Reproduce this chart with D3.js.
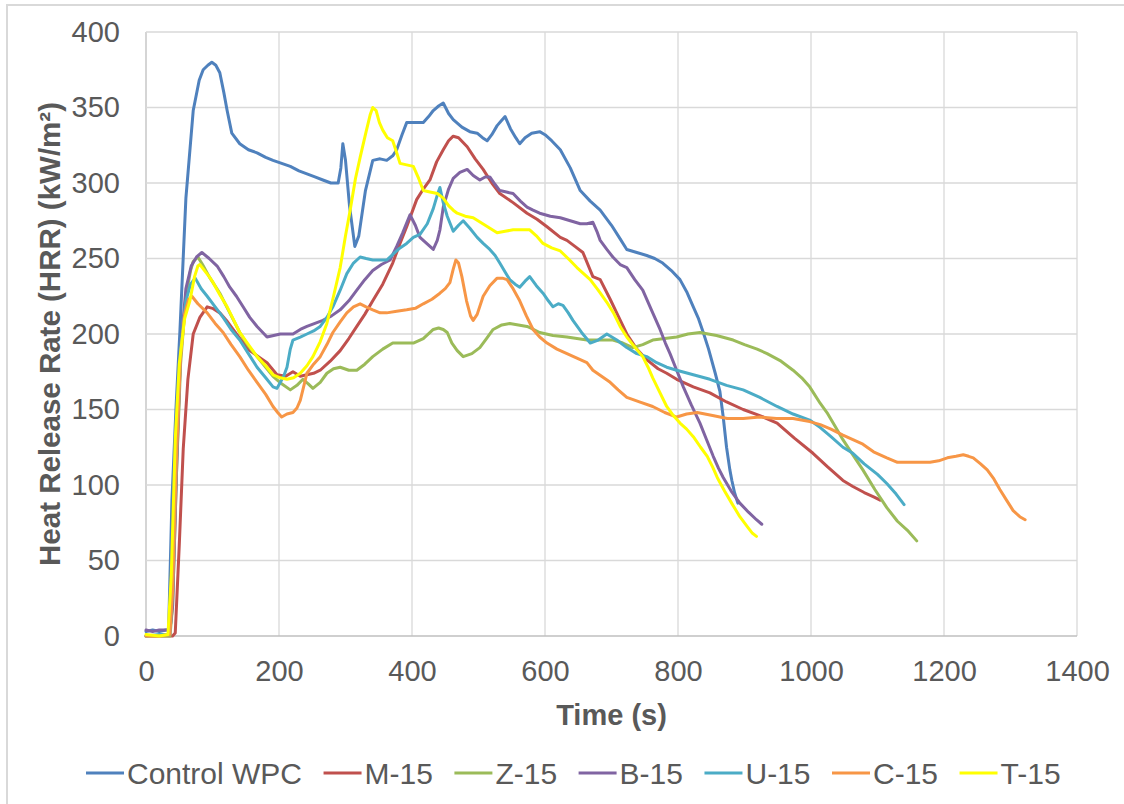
<!DOCTYPE html>
<html>
<head>
<meta charset="utf-8">
<script src="https://cdn.jsdelivr.net/npm/d3@7"></script>
<style>
  body { margin: 0; background: #fff; }
  text { font-family: "Liberation Sans", Arial, sans-serif; }
</style>
</head>
<body>
<div id="my_dataviz"></div>
<script>
// series names, in legend order
const seriesNames = ["Control WPC", "M-15", "Z-15", "B-15", "U-15", "C-15", "T-15"];
const seriesColors = ["#4F81BD", "#C0504D", "#9BBB59", "#8064A2", "#4BACC6", "#F79646", "#FFFF00"];

const xTicks = [0, 200, 400, 600, 800, 1000, 1200, 1400];
const yTicks = [0, 50, 100, 150, 200, 250, 300, 350, 400];

// [time (s), HRR (kW/m2)]
const controlWPC = [[0,3],[10,4],[20,3],[30,4],[34,4],[39,90],[45,150],[51,202],[60,290],[71,348],[80,368],[86,375],[93,378],[99,380],[105,378],[111,373],[117,360],[122,348],[129,333],[141,326],[154,322],[167,320],[180,317],[191,315],[204,313],[217,311],[230,308],[242,306],[254,304],[266,302],[278,300],[289,300],[293,310],[296,326],[300,315],[306,285],[314,258],[320,265],[330,295],[341,315],[352,316],[362,315],[371,318],[377,322],[385,332],[392,340],[405,340],[417,340],[425,344],[432,348],[440,351],[447,353],[455,346],[462,342],[475,337],[487,334],[498,333],[506,330],[513,328],[520,332],[528,338],[534,341],[540,344],[548,336],[556,330],[562,326],[570,330],[580,333],[592,334],[600,332],[610,328],[623,322],[638,310],[653,295],[668,288],[683,282],[700,272],[713,263],[723,256],[738,254],[753,252],[765,250],[777,247],[790,242],[803,236],[813,228],[823,218],[831,210],[838,201],[846,190],[856,174],[863,162],[868,145],[873,125],[878,110],[881,103],[885,95],[890,88]];

const m15 = [[0,0],[20,0],[40,0],[44,2],[50,60],[56,124],[63,170],[71,200],[81,211],[92,218],[100,217],[111,214],[121,209],[131,203],[143,196],[156,189],[169,185],[182,181],[197,173],[210,172],[221,175],[232,172],[242,173],[252,174],[262,176],[277,182],[292,189],[305,197],[317,205],[329,213],[341,222],[356,233],[371,247],[382,260],[392,271],[407,289],[417,296],[427,302],[437,314],[447,322],[455,328],[462,331],[470,330],[483,324],[495,316],[507,309],[520,300],[532,293],[552,287],[573,280],[588,276],[603,271],[623,264],[633,262],[645,258],[657,254],[672,238],[683,236],[698,223],[710,212],[723,200],[738,190],[753,183],[770,177],[783,174],[798,170],[823,165],[848,161],[873,155],[898,150],[923,146],[949,141],[975,131],[1003,121],[1025,112],[1048,103],[1063,99],[1080,95],[1095,92],[1104,90]];

const z15 = [[0,0],[20,0],[36,0],[40,20],[46,110],[52,180],[60,225],[67,242],[71,248],[78,251],[85,246],[95,238],[111,227],[126,214],[141,201],[154,192],[167,185],[180,178],[191,172],[204,167],[217,163],[227,166],[236,170],[244,167],[251,164],[262,168],[272,174],[282,177],[292,178],[305,176],[317,176],[329,180],[341,185],[356,190],[371,194],[386,194],[402,194],[417,197],[432,203],[440,204],[447,203],[453,201],[460,194],[468,189],[477,185],[490,187],[502,191],[512,197],[522,203],[535,206],[547,207],[560,206],[573,205],[583,203],[592,201],[612,199],[633,198],[648,197],[663,196],[683,196],[702,196],[717,194],[732,191],[747,193],[762,196],[780,197],[798,198],[815,200],[833,201],[858,199],[883,196],[900,193],[919,190],[934,187],[955,182],[973,176],[986,171],[998,165],[1014,154],[1024,148],[1036,139],[1048,130],[1063,120],[1078,110],[1096,97],[1114,85],[1130,76],[1145,70],[1159,63]];

const b15 = [[0,4],[10,3],[20,4],[30,4],[36,4],[40,20],[46,110],[52,190],[60,230],[68,245],[76,251],[84,254],[95,250],[107,245],[117,238],[126,231],[136,225],[146,218],[156,211],[167,205],[182,198],[192,199],[202,200],[212,200],[221,200],[232,203],[242,205],[254,207],[266,209],[279,212],[292,216],[305,222],[317,229],[329,236],[341,242],[354,246],[367,249],[377,258],[386,267],[397,279],[405,272],[412,264],[422,260],[432,256],[438,262],[442,269],[447,284],[455,296],[462,303],[472,307],[483,309],[492,305],[502,302],[510,304],[517,304],[525,299],[532,295],[542,294],[552,293],[563,288],[573,284],[582,282],[592,280],[608,278],[623,277],[638,275],[653,273],[663,273],[672,274],[678,268],[683,262],[693,256],[702,251],[713,246],[723,244],[735,236],[747,229],[760,216],[773,203],[781,194],[788,187],[798,176],[808,165],[820,153],[833,141],[843,130],[853,119],[861,111],[868,105],[880,96],[893,88],[906,82],[918,77],[926,74]];

const u15 = [[0,0],[20,1],[36,1],[40,30],[46,120],[52,190],[60,222],[67,233],[74,237],[83,230],[92,225],[104,218],[116,211],[128,203],[141,196],[154,187],[167,178],[180,171],[191,165],[197,164],[202,168],[207,172],[212,178],[217,190],[221,196],[232,198],[242,200],[252,202],[262,205],[272,211],[281,218],[292,229],[302,240],[312,247],[322,251],[331,250],[341,249],[352,249],[362,249],[372,253],[382,257],[392,260],[402,264],[412,266],[423,273],[432,283],[438,292],[442,297],[447,287],[453,278],[462,268],[470,272],[477,275],[487,270],[498,264],[507,260],[517,256],[525,252],[532,247],[540,241],[547,236],[555,233],[562,231],[570,235],[577,238],[587,232],[597,227],[605,222],[612,218],[620,220],[627,219],[635,214],[642,209],[655,201],[668,194],[680,196],[693,200],[708,196],[723,191],[738,187],[753,185],[768,181],[783,178],[798,176],[823,173],[848,170],[873,166],[898,163],[923,158],[949,152],[973,147],[998,143],[1014,138],[1030,132],[1048,125],[1063,121],[1080,114],[1100,107],[1114,101],[1128,94],[1140,87]];

const c15 = [[0,0],[20,0],[36,1],[40,30],[46,120],[52,185],[58,213],[64,223],[69,225],[78,220],[92,214],[104,207],[116,201],[128,193],[141,185],[154,176],[167,168],[180,160],[191,152],[198,148],[204,145],[212,147],[221,148],[227,151],[232,156],[237,165],[242,174],[252,180],[262,185],[272,193],[281,201],[292,208],[302,214],[312,218],[322,220],[331,218],[341,216],[352,214],[362,214],[377,215],[392,216],[405,217],[417,220],[430,223],[442,227],[450,230],[457,234],[462,243],[466,249],[470,247],[475,238],[482,222],[488,212],[492,209],[498,213],[507,225],[517,232],[528,237],[536,237],[543,236],[552,230],[562,222],[572,212],[582,203],[592,198],[603,194],[618,190],[633,187],[648,184],[663,181],[672,176],[685,172],[698,168],[710,163],[723,158],[742,155],[762,152],[780,148],[798,145],[813,147],[829,148],[852,146],[874,144],[898,144],[923,145],[948,144],[973,144],[998,142],[1014,140],[1030,137],[1048,133],[1063,130],[1078,127],[1094,122],[1114,118],[1130,115],[1144,115],[1162,115],[1179,115],[1192,116],[1205,118],[1218,119],[1229,120],[1237,119],[1244,118],[1255,114],[1265,110],[1275,104],[1284,97],[1294,90],[1304,83],[1314,79],[1322,77]];

const t15 = [[0,1],[20,0],[33,1],[38,40],[44,130],[50,180],[58,210],[66,222],[73,238],[78,245],[81,246],[88,242],[95,238],[101,234],[111,226],[122,218],[131,210],[141,201],[154,193],[167,185],[180,179],[191,173],[202,171],[212,170],[222,171],[232,174],[242,179],[251,185],[262,195],[272,207],[282,225],[292,244],[300,265],[307,282],[315,303],[322,317],[331,334],[337,345],[341,350],[346,348],[351,340],[356,335],[363,330],[371,328],[377,320],[382,313],[392,312],[402,311],[410,303],[417,295],[427,294],[438,293],[447,290],[455,285],[462,282],[468,280],[480,278],[492,277],[510,272],[528,267],[540,268],[552,269],[565,269],[577,269],[587,265],[597,260],[610,257],[623,255],[637,249],[648,244],[658,240],[668,236],[680,229],[693,221],[703,214],[713,205],[723,198],[732,193],[747,185],[755,178],[762,171],[773,161],[783,152],[793,146],[803,141],[813,137],[823,132],[834,125],[844,119],[852,112],[859,105],[870,96],[882,87],[893,79],[905,72],[912,68],[918,66]];

const allSeries = [controlWPC, m15, z15, b15, u15, c15, t15];

const W = 1124, H = 804;
const plot = {left: 146, right: 1077, top: 32, bottom: 636};

const svg = d3.select("#my_dataviz")
  .append("svg")
    .attr("width", W)
    .attr("height", H);

// outer chart border
svg.append("rect")
  .attr("x", 7).attr("y", 5)
  .attr("width", 1130).attr("height", 820)
  .attr("fill", "#fff")
  .attr("stroke", "#D9D9D9")
  .attr("stroke-width", 2);

const xScale = d3.scaleLinear().domain([0, 1400]).range([plot.left, plot.right]);
const yScale = d3.scaleLinear().domain([0, 400]).range([plot.bottom, plot.top]);

// gridlines
svg.append("g")
  .selectAll("line.v")
  .data(xTicks)
  .enter().append("line")
    .attr("x1", d => xScale(d)).attr("x2", d => xScale(d))
    .attr("y1", plot.top).attr("y2", plot.bottom)
    .attr("stroke", d => d === 0 ? "#BFBFBF" : "#D9D9D9")
    .attr("stroke-width", 1.3);

svg.append("g")
  .selectAll("line.h")
  .data(yTicks)
  .enter().append("line")
    .attr("x1", plot.left).attr("x2", plot.right)
    .attr("y1", d => yScale(d)).attr("y2", d => yScale(d))
    .attr("stroke", d => d === 0 ? "#BFBFBF" : "#D9D9D9")
    .attr("stroke-width", 1.3);

// axes (labels only, no ticks)
const xAxis = d3.axisBottom(xScale).tickValues(xTicks).tickFormat(d3.format("d")).tickSize(0).tickPadding(24);
const yAxis = d3.axisLeft(yScale).tickValues(yTicks).tickFormat(d3.format("d")).tickSize(0).tickPadding(26);

svg.append("g")
  .attr("transform", `translate(0, ${plot.bottom})`)
  .call(xAxis)
  .call(g => g.select(".domain").remove())
  .selectAll("text")
    .attr("font-size", 29)
    .attr("font-family", "Liberation Sans, Arial, sans-serif")
    .attr("fill", "#595959");

svg.append("g")
  .attr("transform", `translate(${plot.left}, 0)`)
  .call(yAxis)
  .call(g => g.select(".domain").remove())
  .selectAll("text")
    .attr("font-size", 29)
    .attr("font-family", "Liberation Sans, Arial, sans-serif")
    .attr("fill", "#595959");

// axis titles
svg.append("text")
  .attr("x", (plot.left + plot.right) / 2)
  .attr("y", 725)
  .attr("text-anchor", "middle")
  .attr("font-size", 29)
  .attr("font-weight", "bold")
  .attr("fill", "#595959")
  .text("Time (s)");

svg.append("text")
  .attr("transform", `translate(60, ${(plot.top + plot.bottom) / 2}) rotate(-90)`)
  .attr("text-anchor", "middle")
  .attr("font-size", 29.5)
  .attr("font-weight", "bold")
  .attr("fill", "#595959")
  .text("Heat Release Rate (HRR) (kW/m²)");

// lines
const line = d3.line()
  .x(d => xScale(d[0]))
  .y(d => yScale(d[1]));

svg.append("g")
  .selectAll("path")
  .data(allSeries)
  .enter().append("path")
    .attr("d", line)
    .attr("fill", "none")
    .attr("stroke", (d, i) => seriesColors[i])
    .attr("stroke-width", 3)
    .attr("stroke-linejoin", "round")
    .attr("stroke-linecap", "round");

// legend
const legend = svg.append("g");
let lx = 86;
seriesNames.forEach((name, i) => {
  legend.append("line")
    .attr("x1", lx).attr("x2", lx + 38)
    .attr("y1", 773).attr("y2", 773)
    .attr("stroke", seriesColors[i])
    .attr("stroke-width", 3);
  const t = legend.append("text")
    .attr("x", lx + 41)
    .attr("y", 784)
    .attr("font-size", 30)
    .attr("fill", "#595959")
    .text(name);
  lx += 41 + t.node().getComputedTextLength() + 21.5;
});
</script>
</body>
</html>
